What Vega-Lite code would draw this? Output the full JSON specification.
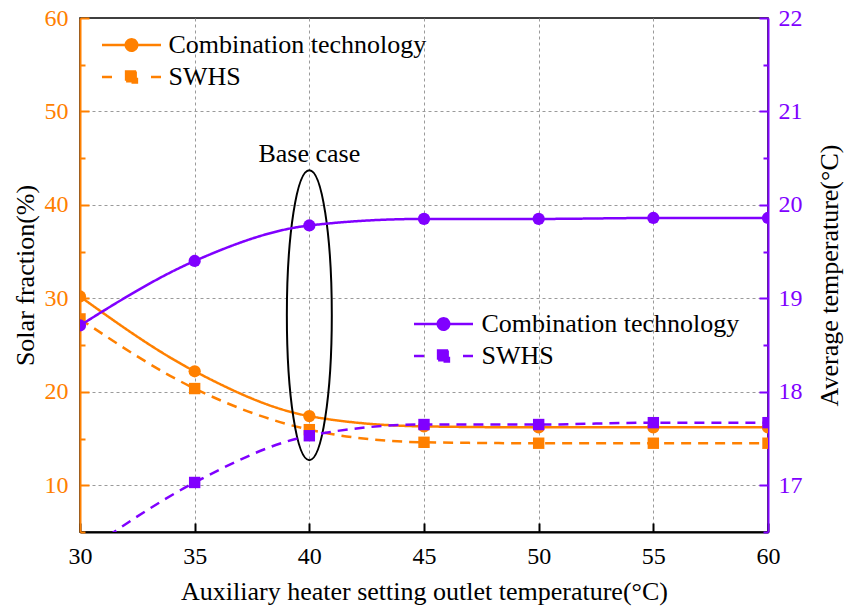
{
  "$schema": "https://vega.github.io/schema/vega-lite/v6.json",
  "autosize": {"type": "none"},
  "width": 688,
  "height": 514,
  "padding": {"left": 80, "top": 18, "right": 78, "bottom": 75},
  "config": {
    "font": "Liberation Serif",
    "view": {"stroke": "black", "strokeWidth": 1.5},
    "axis": {
      "labelFont": "Liberation Serif",
      "titleFont": "Liberation Serif",
      "titleFontWeight": "normal",
      "labelFontSize": 24,
      "titleFontSize": 26,
      "titleColor": "black",
      "gridColor": "#9a9a9a",
      "gridDash": [3, 3],
      "gridWidth": 1,
      "domainWidth": 2,
      "tickWidth": 2,
      "labelFlush": false
    },
    "legend": {
      "labelFont": "Liberation Serif",
      "labelFontSize": 26,
      "labelColor": "black",
      "labelLimit": 500,
      "padding": 0,
      "rowPadding": 6
    }
  },
  "datasets": {
    "sf": [
      {"series": "Combination technology", "x": 30, "v": 30.2},
      {"series": "Combination technology", "x": 35, "v": 22.2},
      {"series": "Combination technology", "x": 40, "v": 17.4},
      {"series": "Combination technology", "x": 45, "v": 16.3},
      {"series": "Combination technology", "x": 50, "v": 16.2},
      {"series": "Combination technology", "x": 55, "v": 16.2},
      {"series": "Combination technology", "x": 60, "v": 16.2},
      {"series": "SWHS", "x": 30, "v": 27.8},
      {"series": "SWHS", "x": 35, "v": 20.35},
      {"series": "SWHS", "x": 40, "v": 15.95},
      {"series": "SWHS", "x": 45, "v": 14.6},
      {"series": "SWHS", "x": 50, "v": 14.5},
      {"series": "SWHS", "x": 55, "v": 14.5},
      {"series": "SWHS", "x": 60, "v": 14.5}
    ],
    "temp": [
      {"series": "Combination technology", "x": 30, "t": 18.71},
      {"series": "Combination technology", "x": 35, "t": 19.4},
      {"series": "Combination technology", "x": 40, "t": 19.78},
      {"series": "Combination technology", "x": 45, "t": 19.85},
      {"series": "Combination technology", "x": 50, "t": 19.85},
      {"series": "Combination technology", "x": 55, "t": 19.86},
      {"series": "Combination technology", "x": 60, "t": 19.86},
      {"series": "SWHS", "x": 30, "t": 16.25},
      {"series": "SWHS", "x": 35, "t": 17.03},
      {"series": "SWHS", "x": 40, "t": 17.53},
      {"series": "SWHS", "x": 45, "t": 17.65},
      {"series": "SWHS", "x": 50, "t": 17.65},
      {"series": "SWHS", "x": 55, "t": 17.67},
      {"series": "SWHS", "x": 60, "t": 17.67}
    ]
  },
  "layer": [
    {
      "data": {"name": "sf"},
      "layer": [
        {
          "mark": {"type": "line", "interpolate": "monotone", "color": "#FF8000", "strokeWidth": 2.5, "clip": true},
          "encoding": {
            "x": {
              "field": "x", "type": "quantitative",
              "scale": {"domain": [30, 60], "nice": false, "zero": false},
              "axis": {
                "title": "Auxiliary heater setting outlet temperature(°C)",
                "values": [30, 35, 40, 45, 50, 55, 60],
                "format": "d",
                "labelFont": "Liberation Serif",
                "labelFontSize": 24,
                "labelFlush": false,
                "domainColor": "black",
                "tickColor": "black",
                "labelColor": "black",
                "tickSize": -9,
                "labelPadding": 21,
                "titlePadding": 10,
                "grid": true
              }
            },
            "y": {
              "field": "v", "type": "quantitative",
              "scale": {"domain": [5, 60], "nice": false, "zero": false},
              "axis": {
                "title": "Solar fraction(%)",
                "orient": "left",
                "values": [5, 10, 15, 20, 25, 30, 35, 40, 45, 50, 55, 60],
                "labelExpr": "datum.value % 10 === 0 ? format(datum.value, 'd') : ''",
                "labelFont": "Liberation Serif",
                "labelFontSize": 24,
                "domainColor": "#FF8000",
                "tickColor": "#FF8000",
                "labelColor": "#FF8000",
                "tickSize": {"condition": {"test": "datum.value % 10 === 0", "value": -9}, "value": -5},
                "labelPadding": 21,
                "titlePadding": 6,
                "grid": true,
                "gridOpacity": {"condition": {"test": "datum.value % 10 === 0 && datum.value < 60", "value": 1}, "value": 0}
              }
            },
            "strokeDash": {
              "field": "series", "type": "nominal",
              "scale": {"domain": ["Combination technology", "SWHS"], "range": [[1, 0], [10, 7]]},
              "legend": {
                "title": null,
                "orient": "none",
                "legendX": 38.5,
                "legendY": 14,
                "symbolSize": 144,
                "symbolStrokeWidth": 2.5,
                "symbolStrokeColor": "#FF8000",
                "symbolFillColor": "#FF8000",
                "labelFont": "Liberation Serif",
                "labelFontSize": 26,
                "labelOffset": 24,
                "encode": {
                  "labels": {"update": {"font": {"value": "Liberation Serif"}}},
                  "symbols": {
                    "update": {
                      "shape": {"signal": "datum.value === 'SWHS' ? 'M -4.92 0 L -3.25 0 M 3.25 0 L 4.92 0 M -0.9 -0.9 L 0.9 -0.9 L 0.9 0.9 L -0.9 0.9 Z' : 'M -4.92 0 L -0.95 0 M 0.95 0 L 4.92 0 M -0.95 0 A 0.95 0.95 0 1 1 0.95 0 A 0.95 0.95 0 1 1 -0.95 0 Z'"},
                      "strokeDash": {"value": [1, 0]},
                      "fill": {"value": "#FF8000"},
                      "stroke": {"value": "#FF8000"},
                      "opacity": {"value": 1}
                    }
                  }
                }
              }
            }
          }
        },
        {
          "transform": [{"filter": "datum.series === 'Combination technology'"}],
          "mark": {"type": "point", "shape": "circle", "filled": true, "color": "#FF8000", "size": 150, "opacity": 1, "clip": true},
          "encoding": {
            "x": {"field": "x", "type": "quantitative"},
            "y": {"field": "v", "type": "quantitative"}
          }
        },
        {
          "transform": [{"filter": "datum.series === 'SWHS'"}],
          "mark": {"type": "point", "shape": "square", "filled": true, "color": "#FF8000", "size": 130, "opacity": 1, "clip": true},
          "encoding": {
            "x": {"field": "x", "type": "quantitative"},
            "y": {"field": "v", "type": "quantitative"}
          }
        },
        {
          "data": {"values": [{"label": "Base case"}]},
          "mark": {"type": "point", "shape": "M 0 -1 A 0.155 1 0 1 1 0 1 A 0.155 1 0 1 1 0 -1 Z", "filled": false, "stroke": "black", "strokeWidth": 2, "size": 84100, "opacity": 1},
          "encoding": {
            "x": {"datum": 40, "type": "quantitative"},
            "y": {"datum": 28.2, "type": "quantitative"}
          }
        },
        {
          "data": {"values": [{"label": "Base case"}]},
          "mark": {"type": "text", "font": "Liberation Serif", "fontSize": 26, "color": "black", "align": "center", "baseline": "middle"},
          "encoding": {
            "x": {"datum": 40, "type": "quantitative"},
            "y": {"datum": 45.5, "type": "quantitative"},
            "text": {"field": "label"}
          }
        }
      ]
    },
    {
      "data": {"name": "temp"},
      "layer": [
        {
          "mark": {"type": "line", "interpolate": "monotone", "color": "#8000FF", "strokeWidth": 2.5, "clip": true},
          "encoding": {
            "x": {"field": "x", "type": "quantitative"},
            "y": {
              "field": "t", "type": "quantitative",
              "scale": {"domain": [16.5, 22], "nice": false, "zero": false},
              "axis": {
                "title": "Average temperature(°C)",
                "orient": "right",
                "titleAngle": -90,
                "titleBaseline": "top",
                "values": [16.5, 17, 17.5, 18, 18.5, 19, 19.5, 20, 20.5, 21, 21.5, 22],
                "labelExpr": "datum.value % 1 === 0 ? format(datum.value, 'd') : ''",
                "labelFont": "Liberation Serif",
                "labelFontSize": 24,
                "domainColor": "#8000FF",
                "tickColor": "#8000FF",
                "labelColor": "#8000FF",
                "tickSize": {"condition": {"test": "datum.value % 1 === 0", "value": -9}, "value": -5},
                "labelPadding": 19,
                "titlePadding": 14,
                "grid": false
              }
            },
            "strokeDash": {
              "field": "series", "type": "nominal",
              "scale": {"domain": ["Combination technology", "SWHS"], "range": [[1, 0], [10, 7]]},
              "legend": {
                "title": null,
                "orient": "none",
                "legendX": 350.5,
                "legendY": 293,
                "symbolSize": 144,
                "symbolStrokeWidth": 2.5,
                "symbolStrokeColor": "#8000FF",
                "symbolFillColor": "#8000FF",
                "labelFont": "Liberation Serif",
                "labelFontSize": 26,
                "labelOffset": 25,
                "encode": {
                  "labels": {"update": {"font": {"value": "Liberation Serif"}}},
                  "symbols": {
                    "update": {
                      "shape": {"signal": "datum.value === 'SWHS' ? 'M -4.92 0 L -3.25 0 M 3.25 0 L 4.92 0 M -0.9 -0.9 L 0.9 -0.9 L 0.9 0.9 L -0.9 0.9 Z' : 'M -4.92 0 L -0.95 0 M 0.95 0 L 4.92 0 M -0.95 0 A 0.95 0.95 0 1 1 0.95 0 A 0.95 0.95 0 1 1 -0.95 0 Z'"},
                      "strokeDash": {"value": [1, 0]},
                      "fill": {"value": "#8000FF"},
                      "stroke": {"value": "#8000FF"},
                      "opacity": {"value": 1}
                    }
                  }
                }
              }
            }
          }
        },
        {
          "transform": [{"filter": "datum.series === 'Combination technology'"}],
          "mark": {"type": "point", "shape": "circle", "filled": true, "color": "#8000FF", "size": 150, "opacity": 1, "clip": true},
          "encoding": {
            "x": {"field": "x", "type": "quantitative"},
            "y": {"field": "t", "type": "quantitative"}
          }
        },
        {
          "transform": [{"filter": "datum.series === 'SWHS'"}],
          "mark": {"type": "point", "shape": "square", "filled": true, "color": "#8000FF", "size": 130, "opacity": 1, "clip": true},
          "encoding": {
            "x": {"field": "x", "type": "quantitative"},
            "y": {"field": "t", "type": "quantitative"}
          }
        }
      ]
    }
  ],
  "resolve": {
    "scale": {"y": "independent", "strokeDash": "independent"},
    "axis": {"y": "independent"},
    "legend": {"strokeDash": "independent"}
  }
}
